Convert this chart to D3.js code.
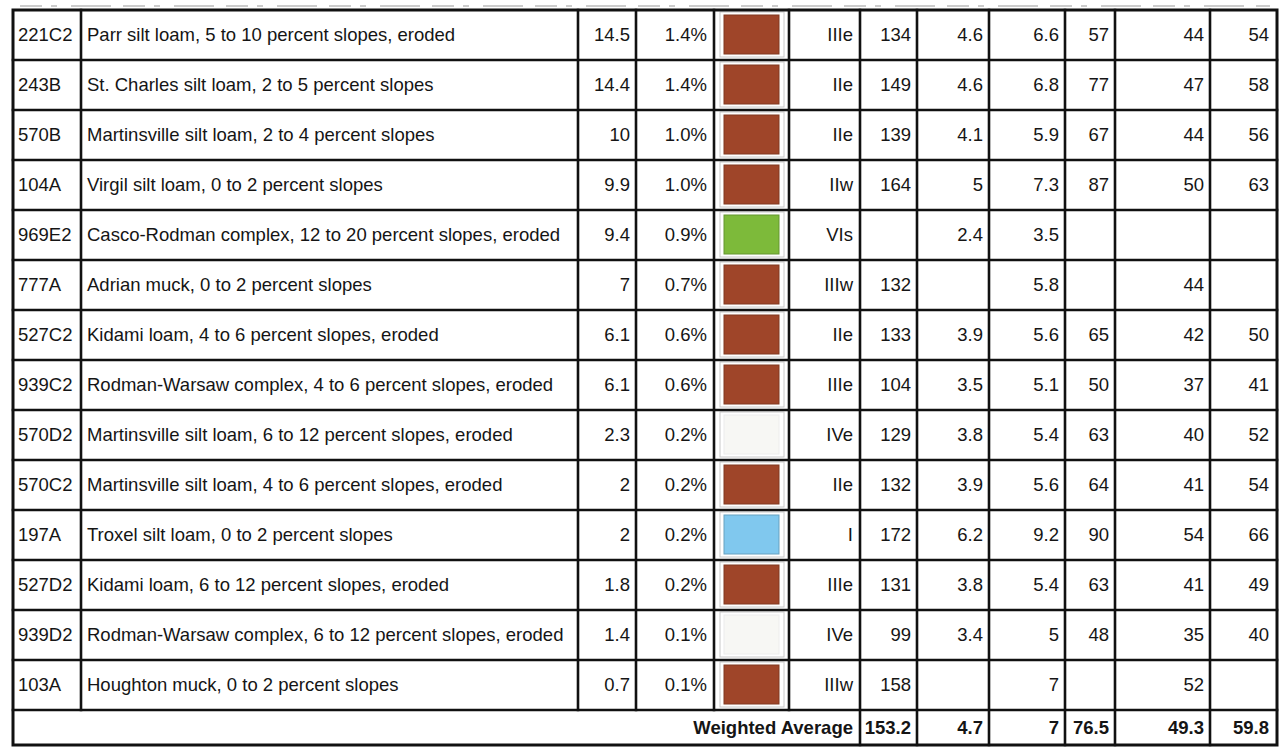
<!DOCTYPE html>
<html>
<head>
<meta charset="utf-8">
<script src="https://cdn.jsdelivr.net/npm/d3@7/dist/d3.min.js"></script>
<style>
  html, body { margin: 0; padding: 0; background: #fff; }
  svg { display: block; }
  text { font-family: "Liberation Sans", Arial, sans-serif; fill: #151515; }
</style>
</head>
<body>
<svg id="chart" width="1283" height="748"></svg>
<script>
// ---- data ----
const codes = ["221C2","243B","570B","104A","969E2","777A","527C2","939C2","570D2","570C2","197A","527D2","939D2","103A"];
const names = [
  "Parr silt loam, 5 to 10 percent slopes, eroded",
  "St. Charles silt loam, 2 to 5 percent slopes",
  "Martinsville silt loam, 2 to 4 percent slopes",
  "Virgil silt loam, 0 to 2 percent slopes",
  "Casco-Rodman complex, 12 to 20 percent slopes, eroded",
  "Adrian muck, 0 to 2 percent slopes",
  "Kidami loam, 4 to 6 percent slopes, eroded",
  "Rodman-Warsaw complex, 4 to 6 percent slopes, eroded",
  "Martinsville silt loam, 6 to 12 percent slopes, eroded",
  "Martinsville silt loam, 4 to 6 percent slopes, eroded",
  "Troxel silt loam, 0 to 2 percent slopes",
  "Kidami loam, 6 to 12 percent slopes, eroded",
  "Rodman-Warsaw complex, 6 to 12 percent slopes, eroded",
  "Houghton muck, 0 to 2 percent slopes"
];
const acres = ["14.5","14.4","10","9.9","9.4","7","6.1","6.1","2.3","2","2","1.8","1.4","0.7"];
const percents = ["1.4%","1.4%","1.0%","1.0%","0.9%","0.7%","0.6%","0.6%","0.2%","0.2%","0.2%","0.2%","0.1%","0.1%"];
const swatchGroups = ["brown","brown","brown","brown","green","brown","brown","brown","blank","brown","blue","brown","blank","brown"];
const capClasses = ["IIIe","IIe","IIe","IIw","VIs","IIIw","IIe","IIIe","IVe","IIe","I","IIIe","IVe","IIIw"];
const cornBu   = ["134","149","139","164","","132","133","104","129","132","172","131","99","158"];
const colB     = ["4.6","4.6","4.1","5","2.4","","3.9","3.5","3.8","3.9","6.2","3.8","3.4",""];
const colC     = ["6.6","6.8","5.9","7.3","3.5","5.8","5.6","5.1","5.4","5.6","9.2","5.4","5","7"];
const colD     = ["57","77","67","87","","","65","50","63","64","90","63","48",""];
const colE     = ["44","47","44","50","","44","42","37","40","41","54","41","35","52"];
const colF     = ["54","58","56","63","","","50","41","52","54","66","49","40",""];
const avgLabel = "Weighted Average";
const avgValues = ["153.2","4.7","7","76.5","49.3","59.8"];

// ---- layout ----
const svg = d3.select("#chart");
const colX = [13, 81, 578, 636, 714, 789, 860, 917, 989, 1065, 1115, 1210, 1277];
const tableTop = 10, rowsBottom = 710, tableBottom = 745;
const fs = 18.5;
const swatchColor = d3.scaleOrdinal()
  .domain(["brown","green","blue","blank"])
  .range(["#9f4529","#7dba3a","#80c8ee","#f7f7f4"]);

const y = d3.scaleBand().domain(codes).range([tableTop, rowsBottom]).paddingInner(0).paddingOuter(0);
const rowH = y.bandwidth();

const rows = codes.map((c, i) => ({
  code: c, name: names[i], acres: acres[i], pct: percents[i], sw: swatchGroups[i],
  cls: capClasses[i], vals: [cornBu[i], colB[i], colC[i], colD[i], colE[i], colF[i]]
}));

// faint cut-off line above the table (scan remnant)
svg.append("line").attr("x1", 20).attr("x2", 1270).attr("y1", 6).attr("y2", 6)
  .attr("stroke", "#9a9a9a").attr("stroke-width", 1.2).attr("stroke-dasharray", "22 9 6 14 40 12");

const g = svg.append("g");

// swatches
const sw = g.selectAll("g.sw").data(rows).join("g").attr("class", "sw");
sw.append("rect")
  .attr("x", colX[4] + 6).attr("y", d => y(d.code) + 2)
  .attr("width", colX[5] - colX[4] - 11).attr("height", rowH - 5)
  .attr("fill", "none").attr("stroke", "#c8c8c8").attr("stroke-width", 1);
sw.append("rect")
  .attr("x", colX[4] + 10).attr("y", d => y(d.code) + 5)
  .attr("width", colX[5] - colX[4] - 20).attr("height", rowH - 11)
  .attr("fill", d => swatchColor(d.sw))
  .attr("stroke", d => d.sw === "blank" ? "#ececec" : d3.color(swatchColor(d.sw)).darker(0.6))
  .attr("stroke-width", 1);

// text
const baseOff = 31;
const pad = 6;
const rowG = g.selectAll("g.row").data(rows).join("g").attr("class", "row")
  .attr("transform", d => `translate(0,${y(d.code) + baseOff})`);
rowG.append("text").attr("x", colX[0] + 5).attr("font-size", fs).text(d => d.code);
rowG.append("text").attr("x", colX[1] + 6).attr("font-size", fs).text(d => d.name);
rowG.append("text").attr("x", colX[3] - pad).attr("text-anchor", "end").attr("font-size", fs).text(d => d.acres);
rowG.append("text").attr("x", colX[4] - pad - 1).attr("text-anchor", "end").attr("font-size", fs).text(d => d.pct);
rowG.append("text").attr("x", colX[6] - pad - 1).attr("text-anchor", "end").attr("font-size", fs).text(d => d.cls);
[0,1,2,3,4,5].forEach(k => {
  rowG.append("text").attr("x", colX[7 + k] - pad - (k === 5 ? 2 : 0)).attr("text-anchor", "end")
    .attr("font-size", fs).text(d => d.vals[k]);
});

// weighted average row
const avgBase = rowsBottom + 24;
g.append("text").attr("x", colX[6] - pad - 1).attr("y", avgBase).attr("text-anchor", "end")
  .attr("font-size", fs).attr("font-weight", "bold").text(avgLabel);
g.selectAll("text.avg").data(avgValues).join("text").attr("class", "avg")
  .attr("x", (d, k) => colX[7 + k] - pad - (k === 5 ? 2 : 0)).attr("y", avgBase)
  .attr("text-anchor", "end").attr("font-size", fs).attr("font-weight", "bold").text(d => d);

// grid lines
const lines = svg.append("g").attr("stroke", "#111").attr("stroke-linecap", "square");
// horizontal row lines
lines.selectAll("line.h").data(codes.slice(1).map(c => y(c)).concat([rowsBottom])).join("line")
  .attr("class", "h").attr("x1", colX[0]).attr("x2", colX[12]).attr("y1", d => d).attr("y2", d => d)
  .attr("stroke-width", 2.6);
// vertical lines in data rows
lines.selectAll("line.v").data(colX.slice(1, 12)).join("line")
  .attr("class", "v").attr("x1", d => d).attr("x2", d => d)
  .attr("y1", tableTop).attr("y2", (d, i) => (i + 1) >= 6 ? tableBottom : rowsBottom)
  .attr("stroke-width", 2.6);
// outer border
svg.append("rect").attr("x", colX[0]).attr("y", tableTop)
  .attr("width", colX[12] - colX[0]).attr("height", tableBottom - tableTop)
  .attr("fill", "none").attr("stroke", "#111").attr("stroke-width", 3);
</script>
</body>
</html>
